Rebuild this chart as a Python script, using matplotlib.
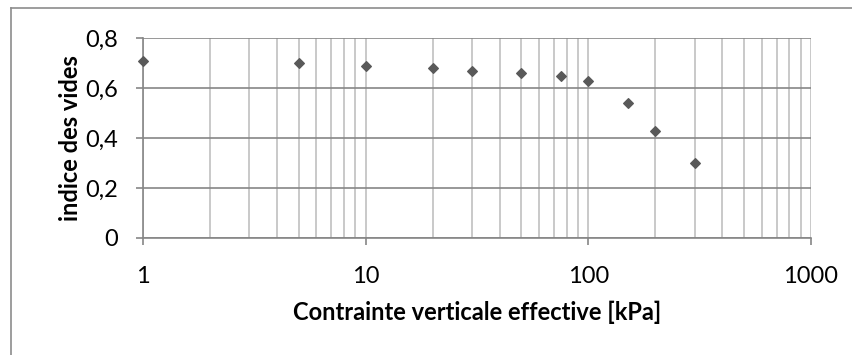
import numpy as np
import matplotlib
matplotlib.use('Agg')
import matplotlib.pyplot as plt
from matplotlib.lines import Line2D
from matplotlib.ticker import FixedLocator, LogLocator, NullFormatter

# contrainte verticale effective [kPa] et indice des vides
sigma = [1, 5, 10, 20, 30, 50, 75, 100, 150, 200, 300]
e_vides = [0.71, 0.70, 0.69, 0.68, 0.67, 0.66, 0.65, 0.63, 0.54, 0.43, 0.30]

xticks = [1, 10, 100, 1000]
xticklabels = ['1', '10', '100', '1000']
yticks = [0, 0.2, 0.4, 0.6, 0.8]
yticklabels = ['0', '0,2', '0,4', '0,6', '0,8']

plt.rcParams['font.family'] = ['Lato', 'DejaVu Sans']

fig = plt.figure(figsize=(8.53, 3.55), dpi=100)
ax = fig.add_axes([143/853, 1-238/355, (811-143)/853, (238-38)/355])

ax.set_xscale('log')
ax.set_xlim(1, 1000)
ax.set_ylim(0, 0.8)

ax.xaxis.set_major_locator(FixedLocator(xticks))
ax.set_xticklabels(xticklabels)
ax.xaxis.set_minor_locator(LogLocator(base=10, subs=np.arange(2, 10)))
ax.xaxis.set_minor_formatter(NullFormatter())
ax.set_yticks(yticks)
ax.set_yticklabels(yticklabels)

ax.grid(True, which='major', axis='y', color='#868686', lw=1.2)
ax.grid(True, which='both', axis='x', color='#c0c0c0', lw=1.2)
ax.set_axisbelow(True)

ax.scatter(sigma, e_vides, marker='D', s=24, color='#595959', zorder=3, clip_on=False)

for s in ['top', 'right']:
    ax.spines[s].set_visible(False)
for s in ['left', 'bottom']:
    ax.spines[s].set_color('#868686')
    ax.spines[s].set_linewidth(1.2)

ax.tick_params(axis='both', which='major', length=5, width=1.2, color='#868686',
               labelsize=17, labelcolor='black')
ax.tick_params(axis='x', which='minor', length=0)
ax.tick_params(axis='x', pad=15)
ax.tick_params(axis='y', pad=13)

ax.set_xlabel('Contrainte verticale effective [kPa]', fontsize=17, fontweight='bold', labelpad=10)
ax.set_ylabel('indice des vides', fontsize=17, fontweight='bold', labelpad=2)

# cadre du graphique
fig.add_artist(Line2D([11/853, 11/853], [0, 1-8/355], transform=fig.transFigure,
                      color='#8c8c8c', lw=1.2))
fig.add_artist(Line2D([11/853, 1], [1-8/355, 1-8/355], transform=fig.transFigure,
                      color='#8c8c8c', lw=1.2))

fig.savefig('out.png', dpi=100)
